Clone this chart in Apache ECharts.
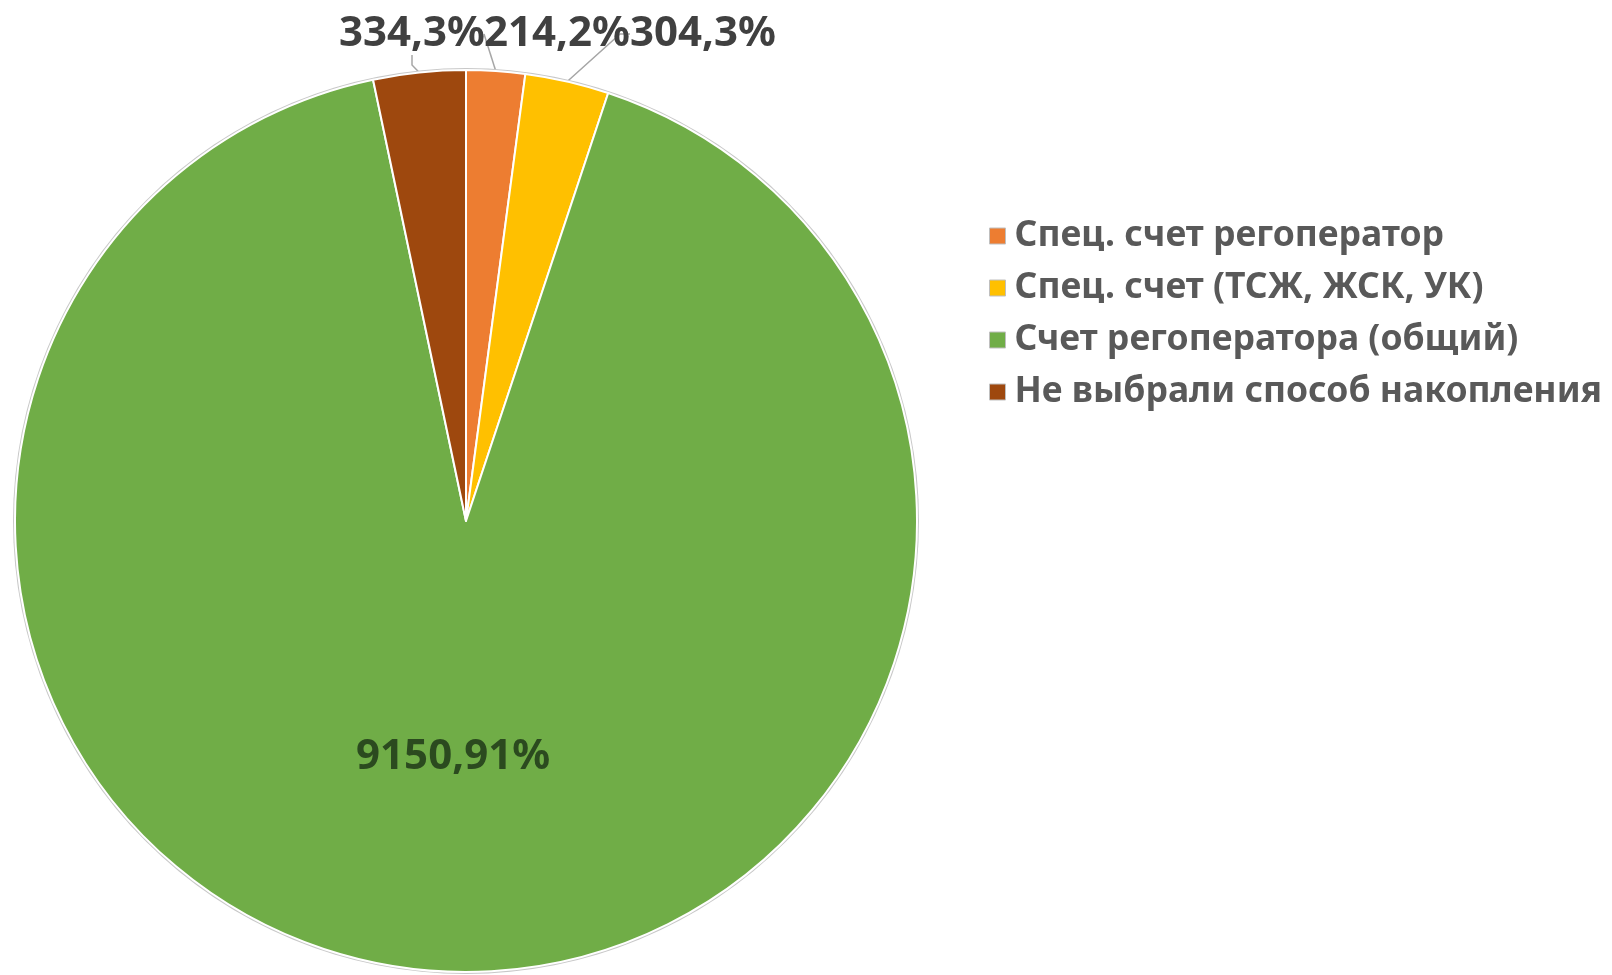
<!DOCTYPE html>
<html>
<head>
<meta charset="utf-8">
<script src="https://cdn.jsdelivr.net/npm/echarts@6/dist/echarts.min.js"></script>
<style>
html,body{margin:0;padding:0;background:#fff;}
#chart{width:1612px;height:975px;}
</style>
</head>
<body>
<div id="chart"></div>
<script>
const categories = ['Спец. счет регоператор', 'Спец. счет (ТСЖ, ЖСК, УК)', 'Счет регоператора (общий)', 'Не выбрали способ накопления'];
const values = [21, 30, 915, 33];
const labelTexts = ['214,2%', '304,3%', '9150,91%', '334,3%'];
const colors = ['#ED7D31', '#FFC000', '#70AD47', '#9E480E'];

const chart = echarts.init(document.getElementById('chart'));
const labelPos = {
  0: {x: 557, y: 34, align: 'center'},
  1: {x: 703, y: 34, align: 'center'},
  3: {x: 412, y: 34, align: 'center'}
};
chart.setOption({
  animation: false,
  color: colors,
  legend: {
    orient: 'vertical',
    left: 984,
    top: 212,
    icon: 'rect',
    itemWidth: 16,
    itemHeight: 16,
    itemGap: 14,
    data: categories,
    itemStyle: {borderColor: '#bfbfbf', borderWidth: 1},
    textStyle: {fontFamily: 'Noto Sans', fontWeight: 'bold', fontSize: 35.5, color: '#595959', lineHeight: 38, padding: [0,0,0,4]}
  },
  series: [
    {
      type: 'pie',
      silent: true,
      center: [466, 521],
      radius: 453,
      data: [{value: 1, name: '_outline'}],
      itemStyle: {color: '#c8c8c8'},
      label: {show: false},
      labelLine: {show: false},
      legendHoverLink: false
    },
    {
      type: 'pie',
      center: [466, 521],
      radius: 451,
      startAngle: 90,
      clockwise: true,
      data: categories.map((c, i) => ({
        name: c,
        value: values[i],
        label: i === 2 ? {position: 'inside', color: '#2b4a1f', fontSize: 42, offset: [0, 8]} : {position: 'outside'},
        labelLine: {show: i !== 2}
      })),
      itemStyle: {borderColor: '#ffffff', borderWidth: 2},
      label: {
        formatter: p => labelTexts[p.dataIndex],
        fontFamily: 'Noto Sans',
        fontWeight: 'bold',
        fontSize: 42,
        color: '#404040'
      },
      labelLine: {lineStyle: {color: '#a6a6a6', width: 1.5}, length: 10, length2: 10},
      labelLayout: function (params) {
        const p = labelPos[params.dataIndex];
        if (!p) return {};
        return {x: p.x, y: p.y, align: p.align, verticalAlign: 'middle', moveOverlap: false};
      }
    }
  ]
});
</script>
</body>
</html>
